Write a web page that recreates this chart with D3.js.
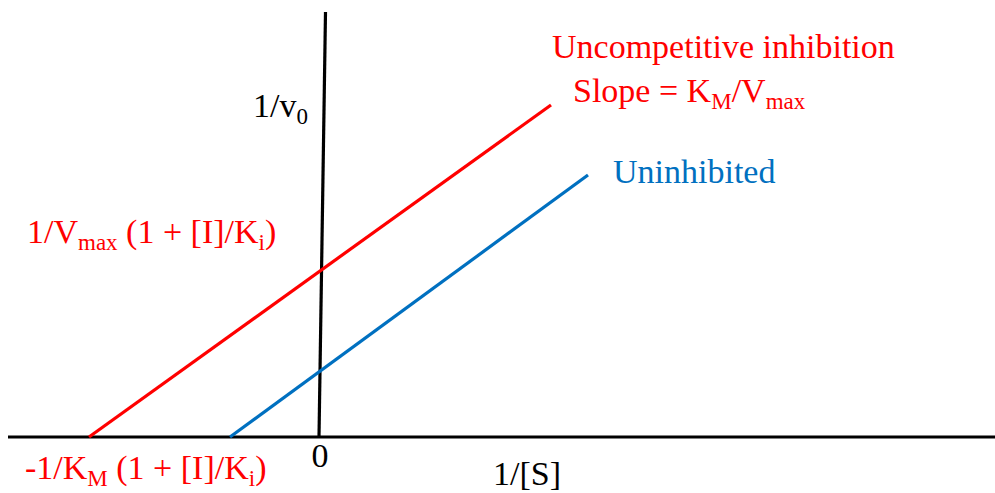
<!DOCTYPE html>
<html>
<head>
<meta charset="utf-8">
<script src="https://cdn.jsdelivr.net/npm/d3@7"></script>
<style>
  html, body { margin: 0; padding: 0; background: #fff; }
  svg { display: block; }
  text { font-family: "Liberation Serif", "Times New Roman", serif; font-size: 34px; }
</style>
</head>
<body>
<svg id="chart"></svg>
<script>
// Configuration
const width = 995, height = 493;

// Data (1/[S] on x, 1/v0 on y, arbitrary units)
const inhibitedLine = [ { x: -2.30, y: 0 }, { x: 2.32, y: 3.32 } ];
const uninhibitedLine = [ { x: -0.89, y: 0 }, { x: 2.69, y: 2.62 } ];
const xAxisLine = [ { x: -3.11, y: 0 }, { x: 6.76, y: 0 } ];
const yAxisLine = [ { x: 0, y: 0 }, { x: 0.065, y: 4.25 } ];

const red = "#ff0000", blue = "#0070c0";

const svg = d3.select("#chart")
  .attr("width", width)
  .attr("height", height);

// Scales
const x = d3.scaleLinear().domain([-3.11, 6.76]).range([8, 995]);
const y = d3.scaleLinear().domain([0, 4.25]).range([437, 12]);

const line = d3.line().x(d => x(d.x)).y(d => y(d.y));

// Axes
svg.append("path").datum(xAxisLine)
  .attr("d", line).attr("stroke", "#000").attr("stroke-width", 3.2).attr("fill", "none");
svg.append("path").datum(yAxisLine)
  .attr("d", line).attr("stroke", "#000").attr("stroke-width", 3.2).attr("fill", "none");

// Lines
svg.append("path").datum(inhibitedLine)
  .attr("d", line).attr("stroke", red).attr("stroke-width", 3.2).attr("fill", "none");
svg.append("path").datum(uninhibitedLine)
  .attr("d", line).attr("stroke", blue).attr("stroke-width", 3.2).attr("fill", "none");

// helper: text with subscripts, parts = [[str, isSub], ...]
function label(px, py, parts, color, anchor) {
  const t = svg.append("text")
    .attr("x", px).attr("y", py)
    .attr("fill", color)
    .attr("text-anchor", anchor || "start");
  let prevSub = false;
  parts.forEach(([s, sub]) => {
    const ts = t.append("tspan").text(s);
    if (sub && !prevSub) ts.attr("dy", 7).style("font-size", "23px");
    else if (sub) ts.style("font-size", "23px");
    else if (prevSub) ts.attr("dy", -7);
    prevSub = sub;
  });
  return t;
}

label(552, 58, [["Uncompetitive inhibition", false]], red);
label(573, 102, [["Slope = K", false], ["M", true], ["/V", false], ["max", true]], red);
label(613, 183, [["Uninhibited", false]], blue);
label(27, 243, [["1/V", false], ["max", true], [" (1 + [I]/K", false], ["i", true], [")", false]], red);
label(25, 479, [["-1/K", false], ["M", true], [" (1 + [I]/K", false], ["i", true], [")", false]], red);
label(253, 117, [["1/v", false], ["0", true]], "#000");
label(x(0) + 1, 467, [["0", false]], "#000", "middle");
label(493, 485, [["1/[S]", false]], "#000");
</script>
</body>
</html>
